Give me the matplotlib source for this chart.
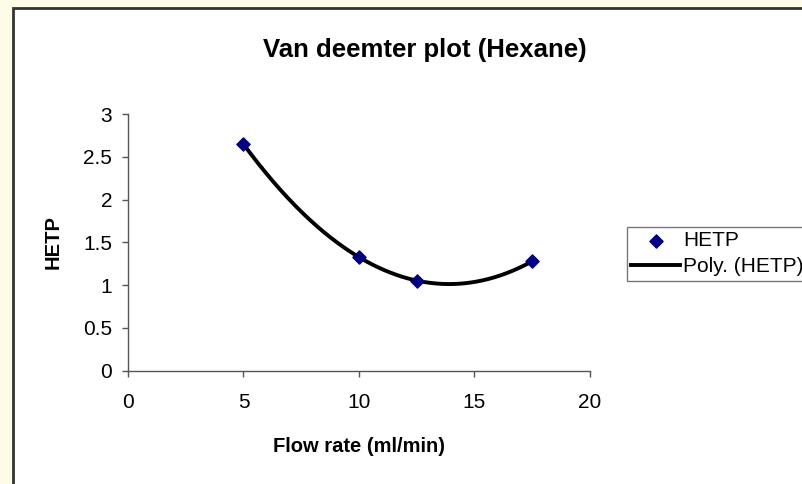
import numpy as np
import matplotlib
matplotlib.use('Agg')
import matplotlib.pyplot as plt
from matplotlib.patches import Rectangle

plt.rcParams['font.family'] = ['Liberation Sans', 'DejaVu Sans']

# measured HETP at each flow rate
flow_rate = [5, 10, 12.5, 17.5]
hetp = [2.65, 1.33, 1.05, 1.28]

x_ticks = [0, 5, 10, 15, 20]
y_ticks = [0, 0.5, 1, 1.5, 2, 2.5, 3]
y_labels = ['0', '0.5', '1', '1.5', '2', '2.5', '3']

W, H = 803, 484
fig = plt.figure(figsize=(W / 100, H / 100), dpi=100)
fig.patch.set_facecolor('#fffce6')

# white chart area with dark border (runs off the right/bottom edge)
frame = Rectangle((13 / W, -0.01), 1.0, 1 - 8 / H + 0.01, transform=fig.transFigure,
                  facecolor='white', edgecolor='#333333', linewidth=2, zorder=-5)
fig.patches.append(frame)

ax = fig.add_axes([128 / W, (H - 370.5) / H, (590 - 128) / W, (370.5 - 114.3) / H])
ax.set_facecolor('none')

# second order trendline, as Excel's "Poly." fit
coef = np.polyfit(flow_rate, hetp, 2)
xs = np.linspace(min(flow_rate), max(flow_rate), 200)
ax.plot(xs, np.polyval(coef, xs), color='black', lw=2.8, label='Poly. (HETP)', zorder=2)
ax.scatter(flow_rate, hetp, marker='D', s=45, color='#000080', label='HETP', zorder=3)

ax.set_xlim(0, 20)
ax.set_ylim(0, 3)
ax.set_xticks(x_ticks)
ax.set_yticks(y_ticks)
ax.set_xticklabels([str(t) for t in x_ticks])
ax.set_yticklabels(y_labels)
for s in ['top', 'right']:
    ax.spines[s].set_visible(False)
for s in ['left', 'bottom']:
    ax.spines[s].set_color('#555555')
    ax.spines[s].set_linewidth(1)
ax.tick_params(length=4.5, width=1, color='#555555', labelsize=15)
ax.tick_params(axis='x', pad=12)
ax.tick_params(axis='y', pad=7)

fig.text(359 / W, 1 - 447 / H, 'Flow rate (ml/min)', fontsize=14.5,
         fontweight='bold', ha='center', va='center')
fig.text(53 / W, 1 - 242 / H, 'HETP', fontsize=14.5, fontweight='bold',
         rotation=90, ha='center', va='center')
fig.text(425 / W, 1 - 50 / H, 'Van deemter plot (Hexane)', fontsize=18.5,
         fontweight='bold', ha='center', va='center')

handles, labels = ax.get_legend_handles_labels()
leg = fig.legend(handles[::-1], labels[::-1], loc='upper left',
                 bbox_to_anchor=(627 / W, 1 - 227 / H), fontsize=15,
                 frameon=True, fancybox=False, edgecolor='#555555',
                 handlelength=2.35, handletextpad=0.15, borderpad=0.2,
                 labelspacing=0.35, borderaxespad=0)
leg.get_frame().set_linewidth(1)

fig.savefig('out.png', dpi=100, facecolor=fig.get_facecolor())
